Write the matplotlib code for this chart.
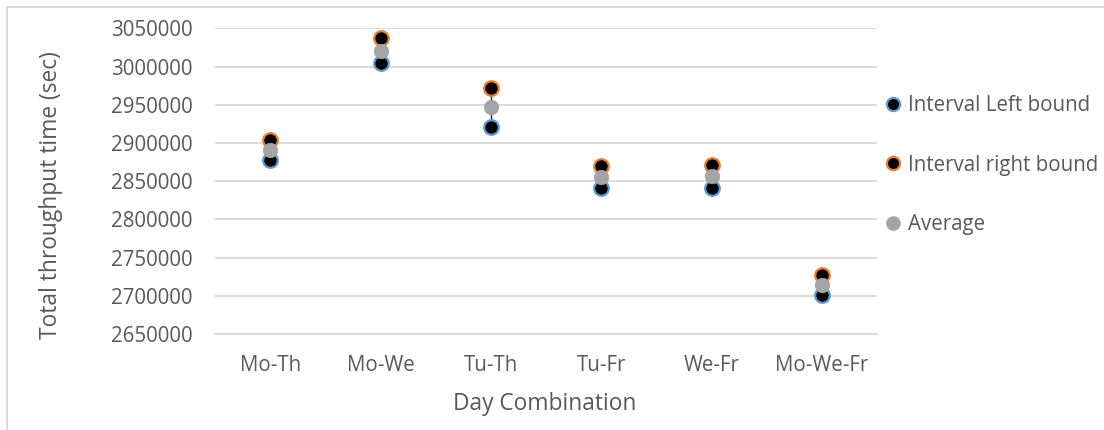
import matplotlib
matplotlib.use("Agg")
import matplotlib.pyplot as plt
from matplotlib.lines import Line2D
from matplotlib.patches import Rectangle

categories = ["Mo-Th", "Mo-We", "Tu-Th", "Tu-Fr", "We-Fr", "Mo-We-Fr"]
left_bound = [2878300, 3004300, 2920900, 2840400, 2840800, 2700800]
right_bound = [2904300, 3037000, 2972500, 2870400, 2870900, 2727300]
average = [2891300, 3020800, 2947000, 2855600, 2856400, 2714300]
yticks = [2650000, 2700000, 2750000, 2800000, 2850000, 2900000, 2950000, 3000000, 3050000]

FONT = ["Open Sans", "DejaVu Sans"]
plt.rcParams["font.family"] = FONT
TXT = "#595959"
BLUE = "#5B9BD5"
ORANGE = "#ED7D31"
GRAY = "#A5A5A5"

W, H = 1104, 430
fig = plt.figure(figsize=(W / 100, H / 100), dpi=100)
ax = fig.add_axes([215 / W, (H - 334) / H, (877 - 215) / W, (334 - 28.3) / H])

x = list(range(len(categories)))
ax.vlines(x, left_bound, right_bound, color="#262626", lw=1.0, zorder=2)
ms = 10.5
ax.plot(x, left_bound, ls="none", marker="o", ms=ms, mfc="black", mec=BLUE, mew=1.6, zorder=3)
ax.plot(x, right_bound, ls="none", marker="o", ms=ms, mfc="black", mec=ORANGE, mew=1.6, zorder=4)
ax.plot(x, average, ls="none", marker="o", ms=ms, mfc=GRAY, mec=GRAY, mew=0.5, zorder=5)

ax.set_xlim(-0.5, len(categories) - 0.5)
ax.set_ylim(yticks[0], yticks[-1])
ax.set_yticks(yticks)
ax.set_yticklabels([str(v) for v in yticks])
ax.set_xticks(x)
ax.set_xticklabels(categories)
ax.yaxis.grid(True, color="#D9D9D9", lw=1.3)
ax.set_axisbelow(True)
for s in ["left", "right", "top"]:
    ax.spines[s].set_visible(False)
ax.spines["bottom"].set_color("#D9D9D9")
ax.spines["bottom"].set_linewidth(1.3)
ax.tick_params(axis="both", length=0, labelsize=14.8, colors=TXT)
ax.tick_params(axis="y", pad=16)
ax.tick_params(axis="x", pad=15)

fig.text(51 / W, 1 - 195 / H, "Total throughput time (sec)", rotation=90, ha="center", va="center",
         fontsize=16.4, color=TXT)
fig.text(545 / W, 1 - 404 / H, "Day Combination", ha="center", va="center", fontsize=16.4, color=TXT)

# legend
handles = [
    Line2D([], [], ls="none", marker="o", ms=9.5, mfc="black", mec=BLUE, mew=1.6),
    Line2D([], [], ls="none", marker="o", ms=9.5, mfc="black", mec=ORANGE, mew=1.6),
    Line2D([], [], ls="none", marker="o", ms=9.5, mfc=GRAY, mec=GRAY),
]
labels = ["Interval Left bound", "Interval right bound", "Average"]
leg = fig.legend(handles, labels, loc="center left", bbox_to_anchor=(885 / W, 1 - 165 / H),
                 frameon=False, fontsize=14.8, labelcolor=TXT, handlelength=0.8,
                 handletextpad=0.3, labelspacing=1.87, borderpad=0, borderaxespad=0)

# chart border (left and top edges visible)
fig.add_artist(Rectangle((7 / W, -0.1), 1.2, (H - 7) / H + 0.1, transform=fig.transFigure,
                         fill=False, ec="#D9D9D9", lw=1.3))

fig.savefig("out.png", dpi=100)
